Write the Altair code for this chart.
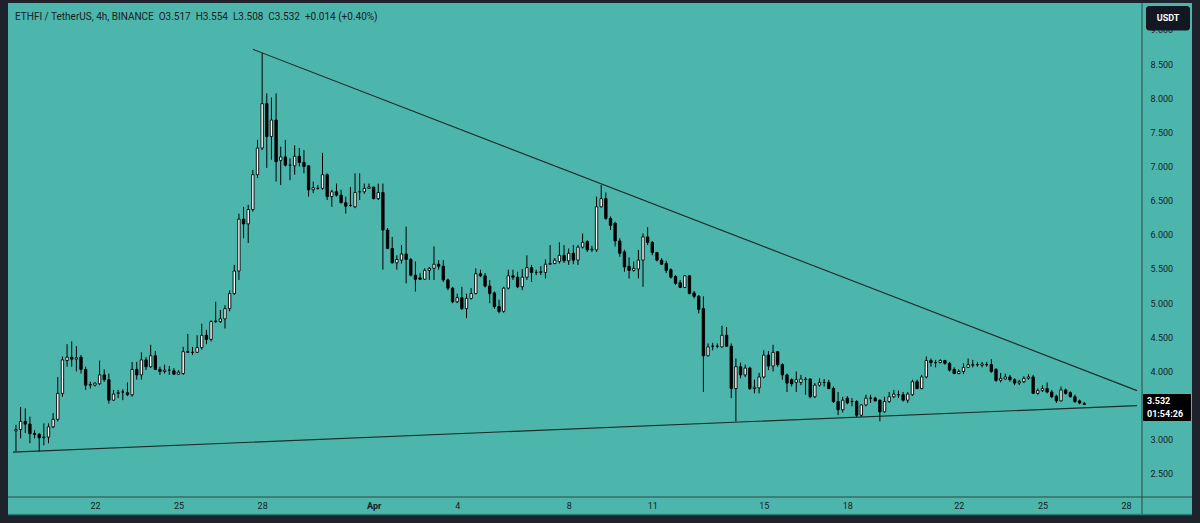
import altair as alt
import pandas as pd

# ---- OHLC values (4h candles, ETHFI/USDT) ----
opens = [3.13, 3.15, 3.27, 3.23, 3.09, 3.08, 3.03, 3.04, 3.19, 3.30,
         3.68, 4.16, 4.21, 4.18, 4.21, 4.03, 3.80, 3.80, 3.82, 3.95,
         3.88, 3.58, 3.68, 3.70, 3.69, 3.66, 4.03, 3.95, 4.17, 4.07,
         4.23, 4.03, 4.00, 4.02, 4.01, 3.96, 3.97, 4.29, 4.28, 4.28,
         4.35, 4.53, 4.47, 4.73, 4.73, 4.77, 4.92, 5.14, 5.47, 6.23,
         6.16, 6.37, 6.88, 7.27, 7.92, 7.44, 7.68, 7.09, 7.14, 7.02,
         7.01, 7.15, 7.06, 7.01, 6.66, 6.68, 6.68, 6.88, 6.56, 6.63,
         6.58, 6.47, 6.43, 6.41, 6.63, 6.63, 6.68, 6.70, 6.53, 6.62,
         6.07, 5.80, 5.59, 5.63, 5.72, 5.64, 5.41, 5.37, 5.35, 5.48,
         5.51, 5.57, 5.54, 5.34, 5.22, 5.02, 5.08, 4.92, 5.07, 5.14,
         5.43, 5.40, 5.25, 5.15, 4.95, 4.88, 5.22, 5.40, 5.38, 5.24,
         5.38, 5.52, 5.45, 5.45, 5.45, 5.57, 5.58, 5.61, 5.70, 5.62,
         5.73, 5.63, 5.82, 5.90, 5.78, 5.78, 6.41, 6.53, 6.24, 6.17,
         5.91, 5.75, 5.54, 5.48, 5.50, 5.63, 5.97, 5.89, 5.74, 5.63,
         5.58, 5.49, 5.39, 5.30, 5.23, 5.40, 5.15, 5.10, 4.92, 4.23,
         4.37, 4.37, 4.36, 4.53, 4.37, 3.75, 4.07, 3.95, 4.05, 3.75,
         3.76, 3.92, 4.24, 4.08, 4.29, 4.10, 3.95, 3.88, 3.84, 3.84,
         3.88, 3.89, 3.63, 3.80, 3.84, 3.84, 3.75, 3.56, 3.44, 3.61,
         3.56, 3.56, 3.36, 3.51, 3.61, 3.61, 3.58, 3.41, 3.56, 3.63,
         3.66, 3.66, 3.58, 3.66, 3.85, 3.75, 3.92, 4.16, 4.13, 4.13,
         4.16, 4.12, 4.03, 3.97, 4.00, 4.06, 4.09, 4.10, 4.09, 4.10,
         4.10, 4.03, 3.87, 3.89, 3.92, 3.88, 3.83, 3.85, 3.90, 3.92,
         3.68, 3.72, 3.75, 3.70, 3.64, 3.57, 3.73, 3.69, 3.63, 3.57,
         3.517]
highs = [3.22, 3.48, 3.46, 3.34, 3.14, 3.10, 3.24, 3.24, 3.39, 3.92,
         4.22, 4.40, 4.44, 4.37, 4.24, 4.07, 3.85, 3.84, 4.16, 4.03,
         3.97, 3.73, 3.73, 3.74, 3.84, 4.14, 4.14, 4.28, 4.21, 4.39,
         4.30, 4.07, 4.10, 4.08, 4.05, 4.02, 4.36, 4.55, 4.36, 4.53,
         4.70, 4.61, 4.75, 5.02, 4.90, 4.97, 5.19, 5.56, 6.31, 6.41,
         6.44, 6.95, 7.39, 8.66, 8.07, 8.01, 8.07, 7.29, 7.39, 7.12,
         7.31, 7.27, 7.24, 7.02, 6.78, 6.73, 7.20, 6.90, 6.66, 6.75,
         6.66, 6.56, 6.70, 6.90, 6.90, 6.75, 6.75, 6.70, 6.75, 6.75,
         6.10, 5.97, 5.70, 5.85, 6.12, 5.66, 5.61, 5.44, 5.51, 5.53,
         5.83, 5.63, 5.63, 5.36, 5.24, 5.14, 5.24, 5.14, 5.22, 5.51,
         5.49, 5.44, 5.34, 5.17, 5.05, 5.24, 5.49, 5.49, 5.46, 5.50,
         5.70, 5.56, 5.49, 5.54, 5.64, 5.85, 5.66, 5.89, 5.85, 5.80,
         5.85, 5.85, 6.02, 5.92, 5.84, 6.56, 6.73, 6.62, 6.27, 6.19,
         5.95, 5.78, 5.67, 5.61, 5.78, 6.02, 6.11, 5.91, 5.75, 5.66,
         5.62, 5.51, 5.41, 5.34, 5.41, 5.41, 5.18, 5.12, 5.10, 4.41,
         4.42, 4.41, 4.67, 4.65, 4.41, 4.19, 4.13, 4.10, 4.07, 3.88,
         3.98, 4.31, 4.30, 4.39, 4.30, 4.12, 3.97, 3.90, 4.00, 3.95,
         3.92, 3.90, 3.83, 3.90, 3.89, 3.88, 3.78, 3.70, 3.63, 3.64,
         3.61, 3.58, 3.52, 3.66, 3.66, 3.63, 3.59, 3.63, 3.70, 3.73,
         3.72, 3.70, 3.70, 3.88, 3.88, 3.95, 4.22, 4.19, 4.17, 4.18,
         4.17, 4.14, 4.06, 4.03, 4.12, 4.19, 4.17, 4.14, 4.14, 4.14,
         4.18, 4.05, 3.98, 3.97, 3.95, 3.90, 3.88, 3.93, 3.96, 3.95,
         3.75, 3.80, 3.84, 3.73, 3.66, 3.78, 3.75, 3.71, 3.66, 3.59,
         3.554]
lows = [2.83, 3.02, 3.10, 2.95, 3.02, 2.83, 2.92, 2.95, 3.17, 3.27,
        3.63, 4.07, 4.07, 4.00, 3.97, 3.73, 3.75, 3.78, 3.80, 3.85,
        3.53, 3.57, 3.61, 3.58, 3.64, 3.63, 3.88, 3.88, 4.02, 4.05,
        4.02, 3.95, 3.97, 3.95, 3.95, 3.95, 3.95, 4.27, 4.24, 4.27,
        4.32, 4.40, 4.44, 4.71, 4.71, 4.63, 4.88, 5.12, 5.34, 5.95,
        5.88, 6.34, 6.83, 7.24, 6.98, 7.10, 6.78, 6.73, 7.00, 6.80,
        6.88, 7.00, 6.90, 6.56, 6.61, 6.66, 6.66, 6.51, 6.41, 6.56,
        6.46, 6.31, 6.41, 6.39, 6.51, 6.60, 6.68, 6.52, 6.51, 5.49,
        5.79, 5.58, 5.49, 5.58, 5.29, 5.39, 5.17, 5.34, 5.34, 5.34,
        5.34, 5.49, 5.31, 5.19, 5.00, 5.00, 4.90, 4.78, 5.05, 5.13,
        5.38, 5.23, 5.00, 4.92, 4.85, 4.86, 5.20, 5.34, 5.22, 5.19,
        5.34, 5.31, 5.41, 5.41, 5.36, 5.56, 5.57, 5.58, 5.59, 5.56,
        5.57, 5.56, 5.80, 5.75, 5.75, 5.75, 6.40, 6.22, 6.07, 5.83,
        5.68, 5.46, 5.36, 5.46, 5.36, 5.24, 5.85, 5.70, 5.61, 5.56,
        5.44, 5.36, 5.27, 5.22, 5.22, 5.13, 5.07, 4.85, 3.70, 4.22,
        4.31, 4.34, 4.35, 4.36, 3.61, 3.27, 3.90, 3.92, 3.73, 3.68,
        3.68, 3.90, 4.02, 4.00, 4.07, 3.88, 3.70, 3.78, 3.70, 3.80,
        3.66, 3.61, 3.61, 3.78, 3.78, 3.74, 3.54, 3.36, 3.40, 3.52,
        3.49, 3.33, 3.34, 3.49, 3.54, 3.56, 3.27, 3.40, 3.54, 3.61,
        3.61, 3.56, 3.54, 3.64, 3.74, 3.74, 3.90, 4.07, 4.06, 4.12,
        4.10, 4.00, 3.96, 3.96, 3.96, 4.05, 4.06, 4.07, 4.06, 4.07,
        3.98, 3.85, 3.84, 3.88, 3.85, 3.80, 3.80, 3.83, 3.88, 3.67,
        3.66, 3.70, 3.68, 3.61, 3.54, 3.56, 3.66, 3.62, 3.54, 3.52,
        3.508]
closes = [3.15, 3.27, 3.23, 3.09, 3.08, 3.03, 3.04, 3.19, 3.30, 3.68,
          4.17, 4.21, 4.18, 4.20, 4.03, 3.80, 3.81, 3.83, 3.95, 3.88,
          3.58, 3.67, 3.69, 3.70, 3.66, 4.03, 3.95, 4.17, 4.07, 4.23,
          4.03, 4.00, 4.02, 4.02, 3.96, 3.99, 4.29, 4.28, 4.28, 4.35,
          4.53, 4.47, 4.73, 4.74, 4.77, 4.92, 5.14, 5.47, 6.23, 6.16,
          6.37, 6.88, 7.27, 7.92, 7.44, 7.68, 7.07, 7.14, 7.02, 7.02,
          7.15, 7.06, 7.00, 6.66, 6.69, 6.68, 6.88, 6.56, 6.63, 6.58,
          6.47, 6.42, 6.43, 6.62, 6.63, 6.68, 6.70, 6.53, 6.62, 6.07,
          5.80, 5.59, 5.64, 5.72, 5.64, 5.41, 5.35, 5.35, 5.48, 5.51,
          5.57, 5.54, 5.34, 5.22, 5.02, 5.08, 4.92, 5.07, 5.14, 5.43,
          5.40, 5.25, 5.14, 4.95, 4.88, 5.22, 5.40, 5.38, 5.24, 5.38,
          5.52, 5.45, 5.45, 5.46, 5.57, 5.58, 5.63, 5.70, 5.62, 5.73,
          5.63, 5.82, 5.89, 5.78, 5.79, 6.41, 6.53, 6.24, 6.14, 5.91,
          5.73, 5.53, 5.48, 5.51, 5.63, 5.97, 5.89, 5.74, 5.63, 5.57,
          5.48, 5.38, 5.29, 5.23, 5.40, 5.14, 5.10, 4.91, 4.23, 4.36,
          4.37, 4.37, 4.53, 4.37, 3.75, 4.07, 3.95, 4.05, 3.75, 3.77,
          3.92, 4.24, 4.08, 4.28, 4.10, 3.95, 3.83, 3.82, 3.88, 3.89,
          3.89, 3.63, 3.80, 3.84, 3.84, 3.75, 3.56, 3.44, 3.58, 3.54,
          3.56, 3.36, 3.51, 3.61, 3.61, 3.57, 3.41, 3.56, 3.63, 3.67,
          3.66, 3.58, 3.67, 3.85, 3.75, 3.92, 4.16, 4.13, 4.13, 4.16,
          4.12, 4.02, 3.97, 4.00, 4.06, 4.10, 4.10, 4.10, 4.11, 4.10,
          4.00, 3.87, 3.90, 3.92, 3.88, 3.83, 3.85, 3.90, 3.92, 3.68,
          3.72, 3.75, 3.70, 3.63, 3.57, 3.73, 3.68, 3.63, 3.56, 3.54,
          3.532]

# ---- trendlines (endpoints) ----
trend_names = ["upper", "upper", "lower", "lower"]
trend_times = ["2024-03-27T16:00:00", "2024-04-28T09:26:00",
               "2024-03-19T01:26:00", "2024-04-28T09:26:00"]
trend_prices = [8.715, 3.72, 2.82, 3.50]

# ---- axis ticks (3.500 sits under the last-price tag in the reference) ----
price_ticks = [2.5, 3.0, 4.0, 4.5, 5.0, 5.5, 6.0, 6.5, 7.0, 7.5, 8.0, 8.5, 9.0]
march_days = [22, 25, 28]
april_days = [1, 4, 8, 11, 15, 18, 22, 25, 28]

NB2 = "\u00a0\u00a0"
header = ("ETHFI / TetherUS, 4h, BINANCE" + NB2 + "O3.517" + NB2 + "H3.554" + NB2
          + "L3.508" + NB2 + "C3.532" + NB2 + "+0.014 (+0.40%)")
last_price = "3.532"
countdown = "01:54:26"

TEAL = "#4db6ac"
FRAME = "#1e222d"
INK = "#17201f"

times = pd.date_range("2024-03-19 04:00", periods=len(opens), freq="4h")
df = pd.DataFrame({"t": times, "open": opens, "high": highs, "low": lows, "close": closes})
trend_df = pd.DataFrame({"line": trend_names, "t": pd.to_datetime(trend_times), "price": trend_prices})

W, H = 1134, 494

xscale = alt.Scale(domain=[alt.DateTime(year=2024, month=3, date=19, hours=1, minutes=26),
                           alt.DateTime(year=2024, month=4, date=28, hours=9, minutes=26)])
yscale = alt.Scale(domain=[2.163, 9.393], nice=False, zero=False)

xaxis = alt.Axis(
    values=[alt.DateTime(year=2024, month=3, date=d) for d in march_days]
    + [alt.DateTime(year=2024, month=4, date=d) for d in april_days],
    labelExpr="date(datum.value) == 1 ? 'Apr' : '' + date(datum.value)",
    labelFontWeight={"condition": {"test": "date(datum.value) == 1", "value": "bold"}, "value": "normal"},
    ticks=False, domain=False, grid=False, labelPadding=4, labelFontSize=9,
    labelFlush=False, labelOverlap=False, title=None, labelColor=INK, labelFont="Roboto",
)
yaxis = alt.Axis(
    orient="right", values=price_ticks, format=".3f", ticks=False, domain=False, grid=False,
    labelPadding=8, labelAlign="left", labelFontSize=9, title=None, labelColor=INK,
    labelFont="Roboto", labelOverlap=False, labelFlush=False,
)


def X(field="t"):
    return alt.X(f"{field}:T", scale=xscale, axis=xaxis)


base = alt.Chart(df)

wicks = base.mark_rule(color="#000000", strokeWidth=1).encode(
    x=X(), y=alt.Y("low:Q", scale=yscale, axis=yaxis), y2="high:Q"
)
bodies = base.mark_bar(size=2.4, stroke="#000000", strokeWidth=0.9).encode(
    x=X(), y=alt.Y("open:Q", scale=yscale, axis=yaxis), y2="close:Q",
    fill=alt.condition("datum.close >= datum.open", alt.value("#ffffff"), alt.value("#000000")),
)
trend = alt.Chart(trend_df).mark_line(color="#1b2b2a", strokeWidth=1.1).encode(
    x=X(), y=alt.Y("price:Q", scale=yscale, axis=yaxis), detail="line:N"
)

one = alt.Data(values=[{}])


def rect(x0, x1, y0, y1, color, radius=0):
    return alt.Chart(one).mark_rect(color=color, cornerRadius=radius).encode(
        x=alt.value(x0), x2=alt.value(x1), y=alt.value(y0), y2=alt.value(y1)
    )


def rule(x0, x1, y0, y1, color, width=1):
    return alt.Chart(one).mark_rule(color=color, strokeWidth=width).encode(
        x=alt.value(x0), x2=alt.value(x1), y=alt.value(y0), y2=alt.value(y1)
    )


def label(txt, x, y, size, color, weight="normal", align="left"):
    return alt.Chart(one).mark_text(
        text=txt, fontSize=size, color=color, fontWeight=weight, align=align,
        baseline="middle", font="Roboto",
    ).encode(x=alt.value(x), y=alt.value(y))


# separators of the price/time axes
sep_h = rule(0, W + 50, H, H, "#2f4644")
sep_v = rule(W, W, 0, H + 18, "#2f4644")

# dark outer frame
frame = [
    rect(-8, 0, -3, H + 26, FRAME),
    rect(W + 50, W + 58, -3, H + 26, FRAME),
    rect(-8, W + 58, -3, 0, FRAME),
    rect(-8, W + 58, H + 18, H + 26, FRAME),
    rule(0, W + 50, H + 17.5, H + 17.5, "#2a7f77", 1.5),
]

usdt_box = rect(W + 4, W + 48, 3, 27.5, "#131722", 3)
usdt_txt = label("USDT", W + 26, 15, 9, "#ffffff", "bold", "center")

price_box = rect(W + 1, W + 49, 391, 418, "#000000", 1)
price_txt = label(last_price, W + 5, 398, 9, "#ffffff", "bold")
count_txt = label(countdown, W + 5, 411, 9, "#ffffff", "bold")

title_txt = label(header, 7, 14, 10, INK)

chart = alt.layer(
    trend, wicks, bodies, sep_h, sep_v, *frame, usdt_box, usdt_txt, price_box, price_txt,
    count_txt, title_txt,
).properties(
    width=W, height=H, background=TEAL,
    padding={"left": 8, "top": 3, "right": 58, "bottom": 26},
    autosize=alt.AutoSizeParams(type="none"),
).configure_view(strokeWidth=0)

chart.save("out.html", embed_options={"renderer": "svg", "actions": False})
